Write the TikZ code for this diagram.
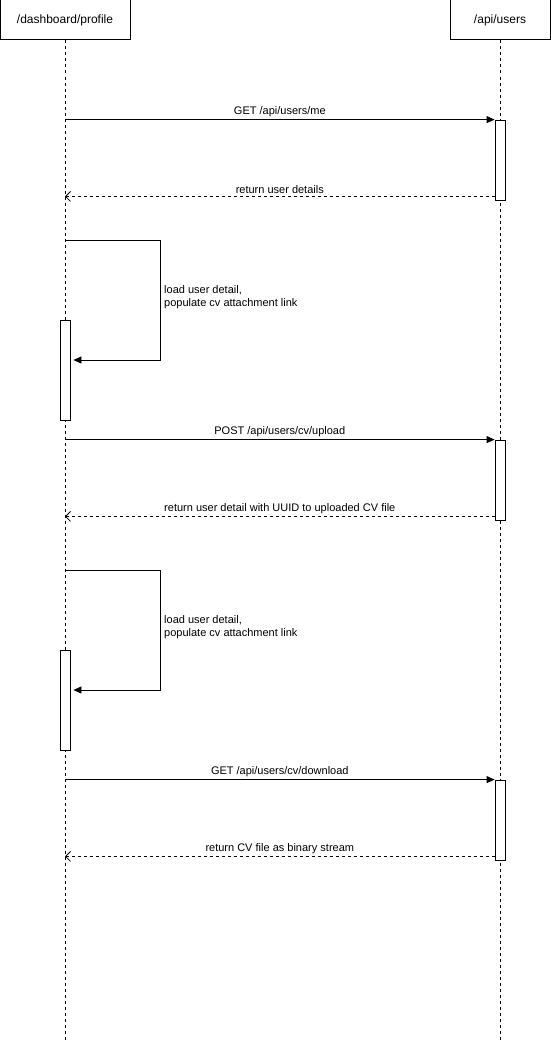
\documentclass[tikz,border=0pt]{standalone}
\usepackage{fontspec}
\setmainfont{Liberation Sans}
\usetikzlibrary{arrows.meta, calc, positioning}

\tikzset{
  actor/.style={draw, line width=1pt, fill=white, minimum height=40pt, inner sep=0pt, font=\fontsize{12}{14}\selectfont},
  lifeline/.style={line width=0.8pt, dash pattern=on 3pt off 3pt},
  actbar/.style={draw, line width=0.8pt, fill=white, minimum width=10pt, inner sep=0pt},
  msg/.style={line width=0.8pt, -{Triangle[length=8pt, width=7pt]}},
  ret/.style={line width=0.8pt, dash pattern=on 3pt off 3pt, -{Straight Barb[length=5pt, width=10pt]}},
  lbl/.style={font=\fontsize{11}{13.5}\selectfont, inner sep=2pt},
}

\begin{document}
\begin{tikzpicture}[x=1pt, y=-1pt, >=Stealth]
  \useasboundingbox (0,0) rectangle (551,1041);

  % Participants
  \node[actor, minimum width=130pt] (prof) at (65,20) {/dashboard/profile};
  \node[actor, minimum width=100pt] (api) at (500,20) {/api/users};

  % Lifelines
  \coordinate (profend) at (65,1041);
  \coordinate (apiend) at (500,1041);
  \draw[lifeline] (prof.south) -- (profend);
  \draw[lifeline] (api.south) -- (apiend);

  % Activation bars
  \node[actbar, minimum height=80pt] (act1) at (500,160) {};
  \node[actbar, minimum height=100pt] (self1) at (65,370) {};
  \node[actbar, minimum height=80pt] (act2) at (500,480) {};
  \node[actbar, minimum height=100pt] (self2) at (65,700) {};
  \node[actbar, minimum height=80pt] (act3) at (500,820) {};

  % Get current user
  \draw[msg] (prof |- act1.north) -- (act1.north west)
    node[lbl, midway, above] {GET /api/users/me};
  \coordinate (back1) at ($(act1.south west) + (0,-4)$);
  \draw[ret] (back1) -- (prof |- back1)
    node[lbl, midway, above] {return user details};

  % First self call
  \coordinate (loop1) at (160,240);
  \draw[msg] (prof |- loop1) -- (loop1) |- ($(self1.east |- 0,360) + (3,0)$);
  \node[lbl, right, align=left, inner sep=4pt] (note1) at (160,297)
    {load user detail,\\populate cv attachment link};

  % Upload CV
  \draw[msg] (prof |- act2.north) -- (act2.north west)
    node[lbl, midway, above] {POST /api/users/cv/upload};
  \coordinate (back2) at ($(act2.south west) + (0,-4)$);
  \draw[ret] (back2) -- (prof |- back2)
    node[lbl, midway, above] {return user detail with UUID to uploaded CV file};

  % Second self call
  \coordinate (loop2) at (160,570);
  \draw[msg] (prof |- loop2) -- (loop2) |- ($(self2.east |- 0,690) + (3,0)$);
  \node[lbl, right, align=left, inner sep=4pt] (note2) at (160,627)
    {load user detail,\\populate cv attachment link};

  % Download CV
  \draw[msg] (prof |- act3.north) -- (act3.north west)
    node[lbl, midway, above] {GET /api/users/cv/download};
  \coordinate (back3) at ($(act3.south west) + (0,-4)$);
  \draw[ret] (back3) -- (prof |- back3)
    node[lbl, midway, above] {return CV file as binary stream};
\end{tikzpicture}
\end{document}
